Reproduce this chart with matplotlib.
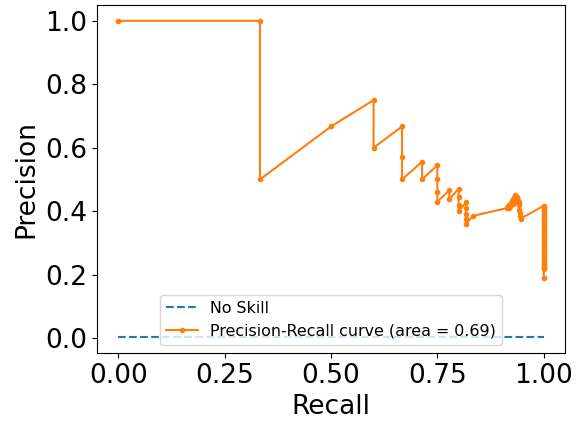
import matplotlib
matplotlib.use("Agg")
import matplotlib.pyplot as plt

# Baseline for a classifier with no skill (fraction of positives)
no_skill_recall = [0.0, 1.0]
no_skill_precision = [0.003, 0.003]

# Precision-recall curve points
recall = [
    0.0, 0.333, 0.333, 0.5, 0.6, 0.6,
    0.667, 0.667, 0.667, 0.714, 0.714,
    0.75, 0.75, 0.75, 0.75, 0.778, 0.778,
    0.8, 0.8, 0.8, 0.8,
    0.818, 0.818, 0.818, 0.818, 0.818, 0.833,
    0.914, 0.916, 0.918, 0.919, 0.921, 0.922, 0.924, 0.925, 0.927,
    0.928, 0.930, 0.931, 0.932, 0.933, 0.935, 0.936, 0.937, 0.938,
    0.939, 0.940, 0.941, 0.942, 0.943, 0.944, 0.945, 0.946,
    1.0, 1.0, 1.0, 1.0, 1.0, 1.0, 1.0, 1.0, 1.0, 1.0,
    1.0, 1.0, 1.0, 1.0, 1.0, 1.0, 1.0, 1.0, 1.0, 1.0,
    1.0, 1.0, 1.0, 1.0, 1.0, 1.0, 1.0, 1.0, 1.0, 1.0,
    1.0, 1.0, 1.0, 1.0, 1.0, 1.0, 1.0, 1.0, 1.0, 1.0,
]
precision = [
    1.0, 1.0, 0.5, 0.667, 0.75, 0.6,
    0.667, 0.571, 0.5, 0.556, 0.5,
    0.545, 0.5, 0.462, 0.429, 0.467, 0.4375,
    0.471, 0.444, 0.421, 0.4,
    0.429, 0.409, 0.391, 0.375, 0.36, 0.385,
    0.410, 0.416, 0.411, 0.421, 0.416, 0.426, 0.419, 0.431, 0.424,
    0.437, 0.430, 0.443, 0.452, 0.447, 0.449, 0.441, 0.433, 0.446,
    0.426, 0.436, 0.418, 0.428, 0.405, 0.395, 0.386, 0.377,
    0.417, 0.412, 0.406, 0.401, 0.396, 0.390, 0.385, 0.379, 0.374, 0.369,
    0.363, 0.357, 0.352, 0.346, 0.341, 0.335, 0.330, 0.324, 0.318, 0.313,
    0.307, 0.301, 0.296, 0.290, 0.284, 0.278, 0.272, 0.267, 0.261, 0.255,
    0.250, 0.245, 0.240, 0.235, 0.231, 0.227, 0.223, 0.220, 0.218, 0.190,
]
area = 0.69

fig = plt.figure(figsize=(5.82, 4.23), dpi=100)
ax = fig.add_subplot(111)
fig.subplots_adjust(left=97 / 582, right=565 / 582, top=1 - 5 / 423, bottom=1 - 353 / 423)

ax.plot(no_skill_recall, no_skill_precision, linestyle="--", label="No Skill")
ax.plot(recall, precision, marker=".", label=f"Precision-Recall curve (area = {area:.2f})")

ax.set_xlabel("Recall", fontsize=19)
ax.set_ylabel("Precision", fontsize=19)
ax.tick_params(axis="both", labelsize=19)
ax.set_xticks([0.0, 0.25, 0.5, 0.75, 1.0])
ax.legend(loc="lower center", fontsize=11.4)

fig.savefig("out.png", dpi=100)
